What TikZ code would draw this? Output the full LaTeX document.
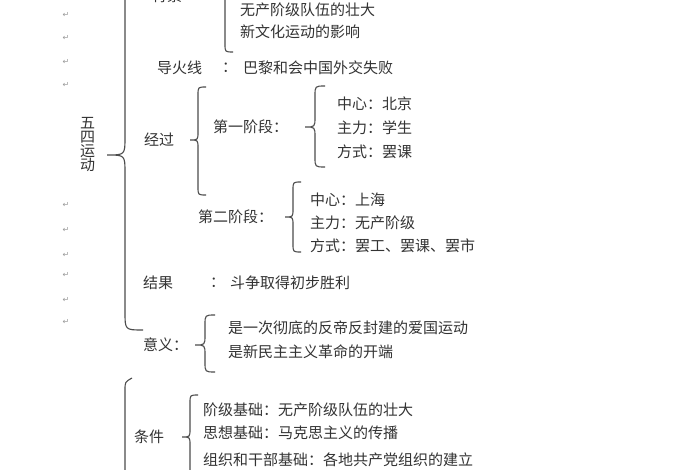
\documentclass[tikz,border=0pt]{standalone}
\usepackage{fontspec}
\setmainfont{Noto Sans CJK SC}
\newfontfamily\djv{DejaVu Sans}
\newcommand\mybrace[5]{% x, ytop, ymid, ybot, w
  \draw[br] (#1+#5,#2) .. controls (#1,#2) .. (#1,#2+#5) -- (#1,#3-#5) .. controls (#1,#3) .. (#1-#5,#3)
    .. controls (#1,#3) .. (#1,#3+#5) -- (#1,#4-#5) .. controls (#1,#4) .. (#1+#5,#4);}
\begin{document}
\begin{tikzpicture}[x=1pt,y=-1pt,
  t/.style={anchor=west,inner sep=0pt,text=black!80,font=\fontsize{15}{17}\selectfont},
  br/.style={draw=black!70,line width=1.1pt},
  rm/.style={inner sep=0pt,text=black!40,font=\djv\fontsize{8}{9}\selectfont}]
\useasboundingbox (0,0) rectangle (700,470);
\clip (0,0) rectangle (700,470);
\fill[white] (0,0) rectangle (700,470);
% main brace
\mybrace{125}{-60}{155}{330}{18}
\draw[br] (125,390) .. controls (125,382) .. (132,378) (125,390) -- (125,480);
\node[t,align=center] (wusi) at (80,145) {五\\[-3pt]四\\[-3pt]运\\[-3pt]动};
% background
\node[t] (bj) at (152,-4) {背景};
\mybrace{225}{-50}{-5}{52}{8}
\node[t] (b1) at (240,10) {无产阶级队伍的壮大};
\node[t] (b2) at (240,32) {新文化运动的影响};
% fuse
\node[t] (dhx) at (157,68) {导火线};
\node[t] (c1) at (222,68) {：};
\node[t] (dhxt) at (243,68) {巴黎和会中国外交失败};
% process
\node[t] (jg) at (144,140) {经过};
\mybrace{198}{87}{140}{195}{8}
\node[t] (s1) at (213,127) {第一阶段：};
\mybrace{315}{86}{127}{167}{10}
\node[t] (s1a) at (337,104) {中心：北京};
\node[t] (s1b) at (337,128) {主力：学生};
\node[t] (s1c) at (337,152) {方式：罢课};
\node[t] (s2) at (198,217) {第二阶段：};
\mybrace{293}{182}{217}{252}{8}
\node[t] (s2a) at (310,200) {中心：上海};
\node[t] (s2b) at (310,223) {主力：无产阶级};
\node[t] (s2c) at (310,246) {方式：罢工、罢课、罢市};
% result
\node[t] (jgu) at (143,283) {结果};
\node[t] (c2) at (210,283) {：};
\node[t] (jgut) at (230,283) {斗争取得初步胜利};
% significance
\node[t] (yy) at (143,345) {意义：};
\mybrace{205}{315}{345}{372}{10}
\node[t] (y1) at (228,328) {是一次彻底的反帝反封建的爱国运动};
\node[t] (y2) at (228,352) {是新民主主义革命的开端};
% conditions
\node[t] (tj) at (134,437) {条件};
\mybrace{190}{395}{437}{480}{8}
\node[t] (t1) at (203,410) {阶级基础：无产阶级队伍的壮大};
\node[t] (t2) at (203,433) {思想基础：马克思主义的传播};
\node[t] (t3) at (203,460) {组织和干部基础：各地共产党组织的建立};
% return marks
\foreach \yy [count=\i] in {15,38,62,85,205,230,255,275,300,322}
  \node[rm] (rm\i) at (66,\yy) {↵};
\end{tikzpicture}
\end{document}
